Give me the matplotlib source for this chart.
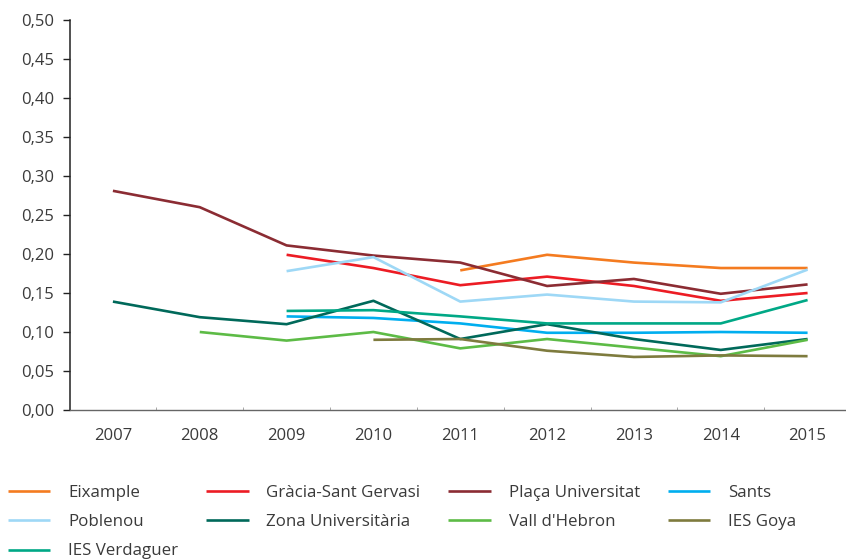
import numpy as np
import matplotlib
matplotlib.use('Agg')
import matplotlib.pyplot as plt
from matplotlib.ticker import FuncFormatter, FixedLocator

plt.rcParams['font.family'] = ['Open Sans', 'DejaVu Sans']

# Years on the x axis
years = [2007, 2008, 2009, 2010, 2011, 2012, 2013, 2014, 2015]

# Series values (None = no data)
eixample = [None, None, None, None, 0.179, 0.199, 0.189, 0.182, 0.182]
gracia = [None, None, 0.199, 0.182, 0.160, 0.171, 0.159, 0.140, 0.150]
placa = [0.281, 0.260, 0.211, 0.198, 0.189, 0.159, 0.168, 0.149, 0.161]
sants = [None, None, 0.120, 0.118, 0.111, 0.099, 0.099, 0.100, 0.099]
poblenou = [None, None, 0.178, 0.196, 0.139, 0.148, 0.139, 0.138, 0.180]
zona = [0.139, 0.119, 0.110, 0.140, 0.091, 0.110, 0.091, 0.077, 0.091]
vall = [None, 0.100, 0.089, 0.100, 0.079, 0.091, 0.080, 0.069, 0.090]
goya = [None, None, None, 0.090, 0.091, 0.076, 0.068, 0.070, 0.069]
verdaguer = [None, None, 0.127, 0.128, 0.120, 0.111, 0.111, 0.111, 0.141]

series = [
    ('Eixample', eixample, '#F47B20'),
    ('Gràcia-Sant Gervasi', gracia, '#EC1C24'),
    ('Plaça Universitat', placa, '#8B2C33'),
    ('Sants', sants, '#00AEEF'),
    ('Poblenou', poblenou, '#9ED8F6'),
    ('Zona Universitària', zona, '#00695A'),
    ("Vall d'Hebron", vall, '#5DBB46'),
    ('IES Goya', goya, '#7E7B3E'),
    ('IES Verdaguer', verdaguer, '#00A886'),
]

text_color = '#3a3a3a'

fig = plt.figure(figsize=(8.46, 5.59), dpi=100)
ax = fig.add_axes([69.5 / 846, 149 / 559, (851 - 69.5) / 846, 390 / 559])

handles = {}
for name, vals, color in series:
    y = np.array([np.nan if v is None else v for v in vals], dtype=float)
    line, = ax.plot(years, y, color=color, linewidth=1.9, label=name,
                    solid_capstyle='butt')
    handles[name] = line

ax.set_xlim(2006.5, 2015.5)
ax.set_ylim(0, 0.5)
ax.set_yticks(np.arange(0, 0.51, 0.05))
ax.yaxis.set_major_formatter(FuncFormatter(lambda v, p: f'{v:.2f}'.replace('.', ',')))
ax.set_xticks(years)
ax.set_xticklabels([str(y) for y in years])
ax.xaxis.set_minor_locator(FixedLocator([y + 0.5 for y in years[:-1]]))

for s in ['top', 'right']:
    ax.spines[s].set_visible(False)
ax.spines['left'].set_color('#222222')
ax.spines['left'].set_linewidth(1.1)
ax.spines['bottom'].set_color('#666666')
ax.spines['bottom'].set_linewidth(1.0)

ax.tick_params(axis='y', length=5, width=1.0, color='#222222', pad=6,
               labelsize=12, labelcolor=text_color)
ax.tick_params(axis='x', which='major', length=0, pad=13,
               labelsize=12, labelcolor=text_color)
ax.tick_params(axis='x', which='minor', length=2, direction='in',
               color='#999999')

# legend, filled column by column so rows read like the reference
order = ['Eixample', 'Poblenou', 'IES Verdaguer',
         'Gràcia-Sant Gervasi', 'Zona Universitària',
         'Plaça Universitat', "Vall d'Hebron",
         'Sants', 'IES Goya']
leg = fig.legend([handles[n] for n in order], order,
                 loc='upper left', bbox_to_anchor=(8 / 846, 1 - 485 / 559),
                 ncol=4, frameon=False, fontsize=12.2,
                 handlelength=2.5, handletextpad=1.05,
                 columnspacing=1.65, labelspacing=0.78, borderpad=0,
                 borderaxespad=0)
for t in leg.get_texts():
    t.set_color(text_color)

fig.savefig('out.png', dpi=100)
